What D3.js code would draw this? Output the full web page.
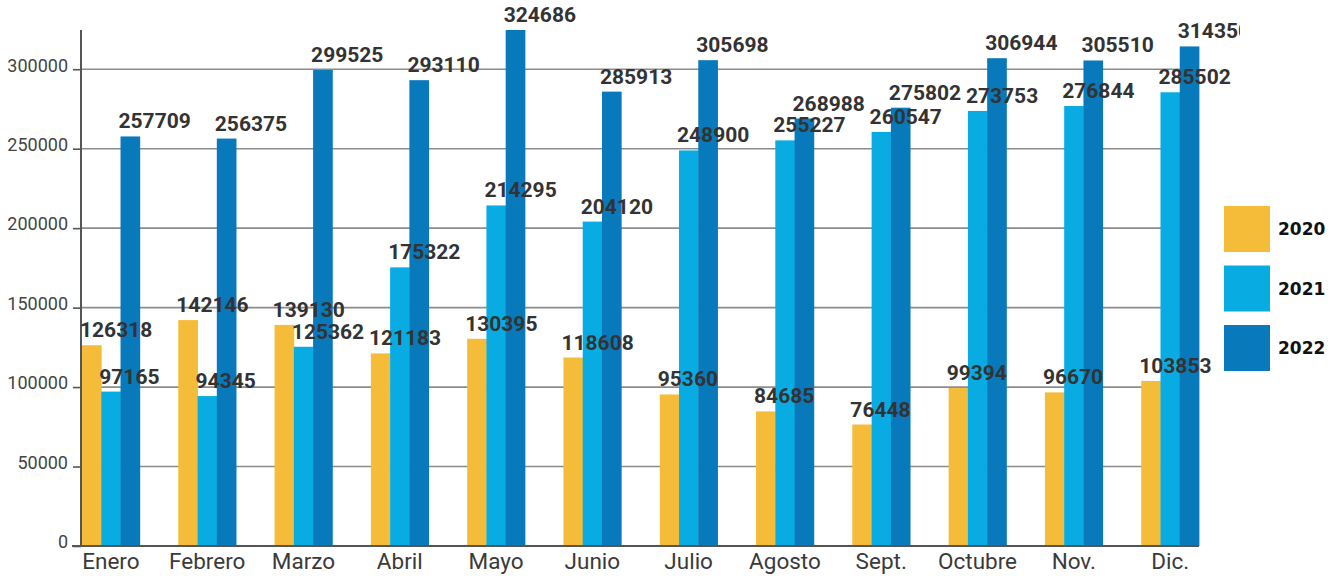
<html>
<head>
    <meta charset="utf-8">
    <script src="https://d3js.org/d3.v7.min.js"></script>
    <style>
        * { margin: 0; padding: 0; }
        body { background: #fff; }
        .tick-label { font-family: Roboto, sans-serif; font-size: 18px; fill: #444; }
        .cat-label { font-family: Roboto, sans-serif; font-size: 22.5px; fill: #3a3a3a; }
        .val-label { font-family: Roboto, sans-serif; font-size: 21px; font-weight: bold; fill: #333; }
        .legend-label { font-family: 'DejaVu Sans', sans-serif; font-size: 17px; font-weight: bold; fill: #111; }
    </style>
</head>
<body>
<div id="chart"></div>
<script>
    // data
    var months = ['Enero', 'Febrero', 'Marzo', 'Abril', 'Mayo', 'Junio', 'Julio', 'Agosto', 'Sept.', 'Octubre', 'Nov.', 'Dic.'];
    var years = ['2020', '2021', '2022'];
    var v2020 = [126318, 142146, 139130, 121183, 130395, 118608, 95360, 84685, 76448, 99394, 96670, 103853];
    var v2021 = [97165, 94345, 125362, 175322, 214295, 204120, 248900, 255227, 260547, 273753, 276844, 285502];
    var v2022 = [257709, 256375, 299525, 293110, 324686, 285913, 305698, 268988, 275802, 306944, 305510, 314350];
    var yTicks = [0, 50000, 100000, 150000, 200000, 250000, 300000];
    var colors = ['#F5BC39', '#08ACE2', '#0879BA'];

    var series = [v2020, v2021, v2022];

    var width = 1338,
        height = 576;

    var svg = d3.select('#chart')
        .append('svg')
        .attr('width', width)
        .attr('height', height);

    var x0 = d3.scaleBand()
        .domain(months)
        .range([82, 1199])
        .paddingInner(0.4)
        .paddingOuter(0);

    var x1 = d3.scaleBand()
        .domain(years)
        .range([0, x0.bandwidth()]);

    var allVals = v2020.concat(v2021, v2022);
    var y = d3.scaleLinear()
        .domain([0, d3.max(allVals)])
        .range([546, 30]);

    // grid lines
    svg.append('g')
        .selectAll('line')
        .data(yTicks.filter(function (d) { return d > 0; }))
        .enter()
        .append('line')
        .attr('x1', 81)
        .attr('x2', 1199)
        .attr('y1', function (d) { return y(d); })
        .attr('y2', function (d) { return y(d); })
        .attr('stroke', '#8c8c8c')
        .attr('stroke-width', 1.6);

    // y axis
    var yAxis = d3.axisLeft(y)
        .tickValues(yTicks)
        .tickSize(8)
        .tickPadding(5)
        .tickFormat(d3.format('d'));

    var gy = svg.append('g')
        .attr('transform', 'translate(81, 0)')
        .call(yAxis);
    gy.select('.domain').remove();
    gy.selectAll('.tick line').attr('stroke', '#555').attr('stroke-width', 1.6);
    gy.selectAll('.tick text')
        .attr('class', 'tick-label')
        .attr('font-family', null)
        .attr('font-size', null)
        .attr('fill', null)
        .attr('dy', '0.1em');
    svg.append('line')
        .attr('x1', 81).attr('x2', 81)
        .attr('y1', y.range()[1]).attr('y2', y(0))
        .attr('stroke', '#555')
        .attr('stroke-width', 2);

    // bars
    var groups = svg.append('g')
        .selectAll('g')
        .data(months)
        .enter()
        .append('g')
        .attr('transform', function (d) { return 'translate(' + x0(d) + ',0)'; });

    groups.selectAll('rect')
        .data(function (d, i) {
            return years.map(function (yr, k) { return { year: yr, value: series[k][i], k: k }; });
        })
        .enter()
        .append('rect')
        .attr('x', function (d) { return x1(d.year); })
        .attr('y', function (d) { return y(d.value); })
        .attr('width', x1.bandwidth() + 0.4)
        .attr('height', function (d) { return y(0) - y(d.value); })
        .attr('fill', function (d) { return colors[d.k]; });

    // x axis baseline
    var xAxis = d3.axisBottom(x0).tickSize(0).tickPadding(0);
    var gx = svg.append('g')
        .attr('transform', 'translate(0,' + y(0) + ')')
        .call(xAxis);
    gx.select('.domain').remove();
    gx.selectAll('.tick text')
        .attr('class', 'cat-label')
        .attr('font-family', null)
        .attr('font-size', null)
        .attr('fill', null)
        .attr('y', 23)
        .attr('dy', 0);
    svg.append('line')
        .attr('x1', 72).attr('x2', 1199)
        .attr('y1', y(0)).attr('y2', y(0))
        .attr('stroke', '#555')
        .attr('stroke-width', 2);

    // value labels (clipped on the right as in the original)
    svg.append('clipPath')
        .attr('id', 'lblclip')
        .append('rect')
        .attr('x', 0).attr('y', 0)
        .attr('width', 1240).attr('height', height);

    var lbl = svg.append('g').attr('clip-path', 'url(#lblclip)');
    months.forEach(function (m, i) {
        years.forEach(function (yr, k) {
            lbl.append('text')
                .attr('class', 'val-label')
                .attr('x', x0(m) + x1(yr) - 2)
                .attr('y', y(series[k][i]) - 8)
                .text(series[k][i]);
        });
    });

    // legend
    var legend = svg.append('g')
        .selectAll('g')
        .data(years)
        .enter()
        .append('g')
        .attr('transform', function (d, i) { return 'translate(1224,' + (206 + i * 59.5) + ')'; });
    legend.append('rect')
        .attr('width', 46)
        .attr('height', 46)
        .attr('fill', function (d, i) { return colors[i]; });
    legend.append('text')
        .attr('class', 'legend-label')
        .attr('x', 54)
        .attr('y', 23)
        .attr('dy', '0.36em')
        .text(function (d) { return d; });
</script>
</body>
</html>
